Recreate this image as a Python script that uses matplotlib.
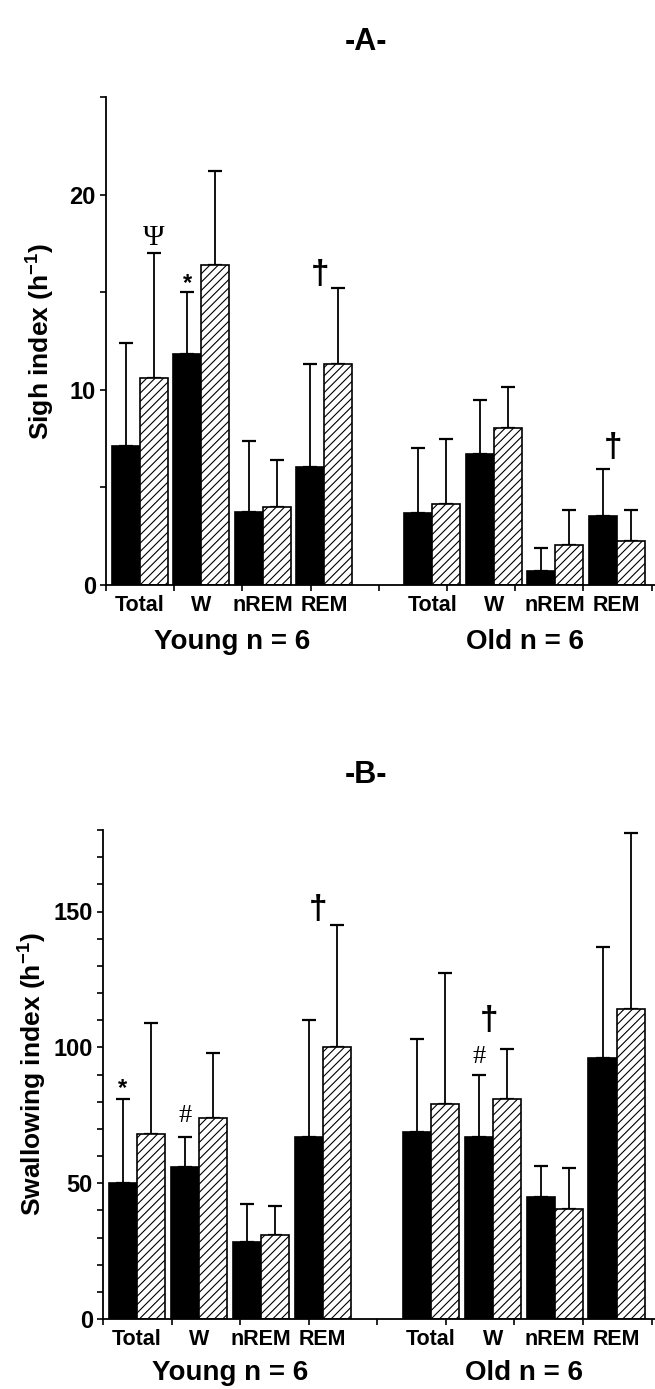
# Sigh and swallowing index, young vs old, per sleep stage

import numpy as np
import matplotlib
matplotlib.use('Agg')
import matplotlib.pyplot as plt

plt.rcParams['font.family'] = ['Liberation Sans', 'DejaVu Sans']
plt.rcParams['font.weight'] = 'bold'
plt.rcParams['axes.labelweight'] = 'bold'
plt.rcParams['mathtext.fontset'] = 'custom'
plt.rcParams['mathtext.rm'] = 'Liberation Sans'
plt.rcParams['mathtext.bf'] = 'Liberation Sans:bold'
plt.rcParams['mathtext.default'] = 'bf'
plt.rcParams['hatch.linewidth'] = 0.8

#------------------------ DATA --------------------------#
categories = ['Total', 'W', 'nREM', 'REM']
groups = ['Young n = 6', 'Old n = 6']

# Panel A : sigh index (h-1), mean and upper SD
sigh_young_black = [7.1, 11.85, 3.75, 6.05]
sigh_young_black_sd = [5.3, 3.15, 3.65, 5.25]
sigh_young_hatch = [10.6, 16.4, 4.0, 11.3]
sigh_young_hatch_sd = [6.4, 4.8, 2.4, 3.9]
sigh_old_black = [3.7, 6.7, 0.7, 3.55]
sigh_old_black_sd = [3.3, 2.8, 1.2, 2.4]
sigh_old_hatch = [4.15, 8.05, 2.05, 2.25]
sigh_old_hatch_sd = [3.35, 2.1, 1.8, 1.6]

# Panel B : swallowing index (h-1), mean and upper SD
swal_young_black = [50, 56, 28.5, 67]
swal_young_black_sd = [31, 11, 14, 43]
swal_young_hatch = [68, 74, 31, 100]
swal_young_hatch_sd = [41, 24, 10.5, 45]
swal_old_black = [69, 67, 45, 96]
swal_old_black_sd = [34, 23, 11.3, 41]
swal_old_hatch = [79, 81, 40.5, 114]
swal_old_hatch_sd = [48.5, 18.5, 15, 65]

# significance marks: (bar pair index 0-7, which bar, symbol)
marks_A = [(0, 'hatch', 'Ψ'), (1, 'black', '*'), (3, 'pair', '†'), (7, 'pair', '†')]
marks_B = [(0, 'black', '*'), (1, 'black', '#'), (3, 'pair', '†'),
           (5, 'black', '#'), (5, 'pair', '†')]
#------------------------ DATA --------------------------#

# vertical offsets (points) of each mark above its error bar
dy_A = [6, 1.5, 4, 9]
dy_B = [3, 11, 5, 8, 14]

mark_style = {
    'Ψ': dict(fontsize=21, family=['Liberation Serif'], weight='normal', dx=0),
    '*': dict(fontsize=17, family=['Liberation Sans'], weight='bold', dx=0),
    '#': dict(fontsize=19, family=['Liberation Serif'], weight='normal', dx=0),
    '†': dict(fontsize=24, family=['Liberation Sans', 'DejaVu Sans'], weight='bold', dx=-3),
}

bar_width = 0.455
XLIM = (-0.55, 8.37)


def plot_panel(ax, black, black_sd, hatch, hatch_sd, ymax, major, minor, ylabel, marks, dys, group_pad):
    pos = np.concatenate([np.arange(4), np.arange(4) + 4.75])
    black = np.asarray(black, float)
    hatch = np.asarray(hatch, float)
    black_sd = np.asarray(black_sd, float)
    hatch_sd = np.asarray(hatch_sd, float)

    ax.bar(pos - bar_width / 2, black, bar_width, color='black', edgecolor='black', linewidth=1.2, zorder=2)
    ax.bar(pos + bar_width / 2, hatch, bar_width, color='white', edgecolor='black', linewidth=1.2,
           hatch='////', zorder=2)

    # one sided error bars
    ax.errorbar(pos - bar_width / 2, black, yerr=[np.zeros_like(black), black_sd], fmt='none',
                ecolor='black', elinewidth=1.3, capsize=5, capthick=1.6, zorder=1)
    ax.errorbar(pos + bar_width / 2, hatch, yerr=[np.zeros_like(hatch), hatch_sd], fmt='none',
                ecolor='black', elinewidth=1.3, capsize=5, capthick=1.6, zorder=1)

    # marks
    for (i, which, sym), dy in zip(marks, dys):
        st = mark_style[sym]
        if which == 'black':
            x, y = pos[i] - bar_width / 2, black[i] + black_sd[i]
        elif which == 'hatch':
            x, y = pos[i] + bar_width / 2, hatch[i] + hatch_sd[i]
        else:
            x, y = pos[i], max(black[i] + black_sd[i], hatch[i] + hatch_sd[i])
        ax.annotate(sym, xy=(x, y), xytext=(st['dx'], dy), textcoords='offset points',
                    ha='center', va='baseline', fontsize=st['fontsize'],
                    family=st['family'], fontweight=st['weight'])

    ax.set_xlim(XLIM)
    ax.set_ylim(0, ymax)

    # plain ticks along the x axis, category names as minor tick labels
    ax.set_xticks(XLIM[0] + np.arange(9) * 1.108)
    ax.set_xticklabels([])
    ax.set_xticks(pos, categories * 2, minor=True)
    ax.tick_params(axis='x', which='major', direction='out', length=4.3, width=1.2)
    ax.tick_params(axis='x', which='minor', length=0, pad=7, labelsize=15.5)

    ax.set_yticks(np.arange(0, ymax + 1, major))
    ax.set_yticks(np.arange(0, ymax + 1, minor), minor=True)
    ax.tick_params(axis='y', which='both', direction='out', length=4.3, width=1.2, labelsize=17, pad=3)

    for side in ['top', 'right']:
        ax.spines[side].set_visible(False)
    for side in ['left', 'bottom']:
        ax.spines[side].set_linewidth(1.3)

    ax.set_ylabel(ylabel, fontsize=19, fontweight='bold')

    # group labels under the categories
    for gi, name in enumerate(groups):
        xc = pos[gi * 4:(gi + 1) * 4].mean()
        ax.annotate(name, xy=(xc, 0), xycoords=('data', 'axes fraction'), xytext=(0, -group_pad),
                    textcoords='offset points', ha='center', va='center', fontsize=20)


fig = plt.figure(figsize=(6.55, 13.89), dpi=100)

axA = fig.add_axes([106 / 655, 1 - 585 / 1389, 549 / 655, 488 / 1389])
plot_panel(axA,
           sigh_young_black + sigh_old_black, sigh_young_black_sd + sigh_old_black_sd,
           sigh_young_hatch + sigh_old_hatch, sigh_young_hatch_sd + sigh_old_hatch_sd,
           25, 10, 5, 'Sigh index (h$^{-1}$)', marks_A, dy_A, 41)
axA.yaxis.set_label_coords(-0.09, 0.5)

axB = fig.add_axes([103 / 655, 1 - 1319 / 1389, 552 / 655, 489 / 1389])
plot_panel(axB,
           swal_young_black + swal_old_black, swal_young_black_sd + swal_old_black_sd,
           swal_young_hatch + swal_old_hatch, swal_young_hatch_sd + swal_old_hatch_sd,
           180, 50, 10, 'Swallowing index (h$^{-1}$)', marks_B, dy_B, 39)
axB.yaxis.set_label_coords(-0.097, 0.5)

fig.text(366 / 655, 1 - 42 / 1389, '-A-', ha='center', va='center', fontsize=22)
fig.text(366 / 655, 1 - 775 / 1389, '-B-', ha='center', va='center', fontsize=22)

plt.savefig('out.png', dpi=100)
